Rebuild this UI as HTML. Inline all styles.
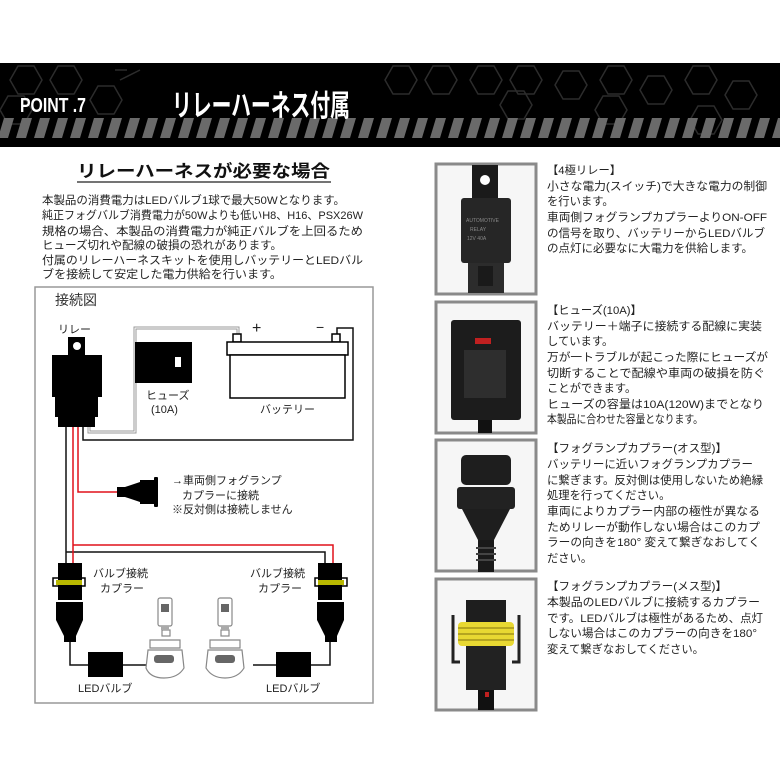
<!DOCTYPE html>
<html><head><meta charset="utf-8"><style>
html,body{margin:0;padding:0;background:#fff;}
svg{display:block;}
text{font-family:"Liberation Sans","Noto Sans CJK JP",sans-serif;}
</style></head><body>
<svg width="780" height="780" viewBox="0 0 780 780" xmlns="http://www.w3.org/2000/svg">
<defs><clipPath id="band"><rect x="0" y="63" width="780" height="84"/></clipPath></defs>
<!-- header -->
<rect x="0" y="63" width="780" height="84" fill="#000"/>
<g fill="none" stroke="#2c2c2c" stroke-width="1.5" clip-path="url(#band)">
<path d="M10 80 l8 -14 h16 l8 14 l-8 14 h-16z"/>
<path d="M50 80 l8 -14 h16 l8 14 l-8 14 h-16z"/>
<path d="M90 100 l8 -14 h16 l8 14 l-8 14 h-16z"/>
<path d="M0 110 l8 -14 h16 l8 14 l-8 14 h-16z"/>
<path d="M115 70 h12 M120 80 l20 -10"/>
<path d="M385 80 l8 -14 h16 l8 14 l-8 14 h-16z"/>
<path d="M425 80 l8 -14 h16 l8 14 l-8 14 h-16z"/>
<path d="M470 80 l8 -14 h16 l8 14 l-8 14 h-16z"/>
<path d="M510 80 l8 -14 h16 l8 14 l-8 14 h-16z"/>
<path d="M555 85 l8 -14 h16 l8 14 l-8 14 h-16z"/>
<path d="M600 80 l8 -14 h16 l8 14 l-8 14 h-16z"/>
<path d="M640 90 l8 -14 h16 l8 14 l-8 14 h-16z"/>
<path d="M685 80 l8 -14 h16 l8 14 l-8 14 h-16z"/>
<path d="M725 95 l8 -14 h16 l8 14 l-8 14 h-16z"/>
<path d="M500 105 l8 -14 h16 l8 14 l-8 14 h-16z"/>
<path d="M595 110 l8 -14 h16 l8 14 l-8 14 h-16z"/>
<path d="M690 120 l8 -14 h16 l8 14 l-8 14 h-16z"/>
</g>
<g fill="#6a6a6a">
<path d="M4 118 h10 l-6 20 h-10z"/>
<path d="M22 118 h10 l-6 20 h-10z"/>
<path d="M40 118 h10 l-6 20 h-10z"/>
<path d="M58 118 h10 l-6 20 h-10z"/>
<path d="M76 118 h10 l-6 20 h-10z"/>
<path d="M94 118 h10 l-6 20 h-10z"/>
<path d="M112 118 h10 l-6 20 h-10z"/>
<path d="M130 118 h10 l-6 20 h-10z"/>
<path d="M148 118 h10 l-6 20 h-10z"/>
<path d="M166 118 h10 l-6 20 h-10z"/>
<path d="M184 118 h10 l-6 20 h-10z"/>
<path d="M202 118 h10 l-6 20 h-10z"/>
<path d="M220 118 h10 l-6 20 h-10z"/>
<path d="M238 118 h10 l-6 20 h-10z"/>
<path d="M256 118 h10 l-6 20 h-10z"/>
<path d="M274 118 h10 l-6 20 h-10z"/>
<path d="M292 118 h10 l-6 20 h-10z"/>
<path d="M310 118 h10 l-6 20 h-10z"/>
<path d="M328 118 h10 l-6 20 h-10z"/>
<path d="M346 118 h10 l-6 20 h-10z"/>
<path d="M364 118 h10 l-6 20 h-10z"/>
<path d="M382 118 h10 l-6 20 h-10z"/>
<path d="M400 118 h10 l-6 20 h-10z"/>
<path d="M418 118 h10 l-6 20 h-10z"/>
<path d="M436 118 h10 l-6 20 h-10z"/>
<path d="M454 118 h10 l-6 20 h-10z"/>
<path d="M472 118 h10 l-6 20 h-10z"/>
<path d="M490 118 h10 l-6 20 h-10z"/>
<path d="M508 118 h10 l-6 20 h-10z"/>
<path d="M526 118 h10 l-6 20 h-10z"/>
<path d="M544 118 h10 l-6 20 h-10z"/>
<path d="M562 118 h10 l-6 20 h-10z"/>
<path d="M580 118 h10 l-6 20 h-10z"/>
<path d="M598 118 h10 l-6 20 h-10z"/>
<path d="M616 118 h10 l-6 20 h-10z"/>
<path d="M634 118 h10 l-6 20 h-10z"/>
<path d="M652 118 h10 l-6 20 h-10z"/>
<path d="M670 118 h10 l-6 20 h-10z"/>
<path d="M688 118 h10 l-6 20 h-10z"/>
<path d="M706 118 h10 l-6 20 h-10z"/>
<path d="M724 118 h10 l-6 20 h-10z"/>
<path d="M742 118 h10 l-6 20 h-10z"/>
<path d="M760 118 h10 l-6 20 h-10z"/>
<path d="M778 118 h10 l-6 20 h-10z"/>
</g>
<text x="20" y="112" fill="#fff" font-size="20" font-weight="bold" textLength="66" lengthAdjust="spacingAndGlyphs">POINT .7</text>
<text x="172" y="116" fill="#fff" font-size="30" font-weight="bold" textLength="178" lengthAdjust="spacingAndGlyphs">リレーハーネス付属</text>

<!-- left text -->
<text x="77" y="177" font-size="17" font-weight="bold" fill="#111" textLength="253" lengthAdjust="spacingAndGlyphs">リレーハーネスが必要な場合</text>
<line x1="77" y1="182" x2="331" y2="182" stroke="#222" stroke-width="1.2"/>
<g font-size="11.3" fill="#222">
<text x="42" y="204" textLength="303" lengthAdjust="spacingAndGlyphs">本製品の消費電力はLEDバルブ1球で最大50Wとなります。</text>
<text x="42" y="219" textLength="321" lengthAdjust="spacingAndGlyphs">純正フォグバルブ消費電力が50Wよりも低いH8、H16、PSX26W</text>
<text x="42" y="235" textLength="321" lengthAdjust="spacingAndGlyphs">規格の場合、本製品の消費電力が純正バルブを上回るため</text>
<text x="42" y="249" textLength="240" lengthAdjust="spacingAndGlyphs">ヒューズ切れや配線の破損の恐れがあります。</text>
<text x="42" y="264" textLength="321" lengthAdjust="spacingAndGlyphs">付属のリレーハーネスキットを使用しバッテリーとLEDバル</text>
<text x="42" y="278" textLength="240" lengthAdjust="spacingAndGlyphs">ブを接続して安定した電力供給を行います。</text>
</g>

<!-- diagram frame -->
<rect x="35" y="287" width="338" height="416" fill="none" stroke="#999" stroke-width="1.5"/>
<text x="55" y="305" font-size="14" fill="#333">接続図</text>
<text x="58" y="333" font-size="11" fill="#222">リレー</text>

<!-- wires -->
<path d="M89 427 V432 H135 V328 H238 V334" fill="none" stroke="#999" stroke-width="3"/>
<path d="M89 427 V432 H135 V328 H238 V334" fill="none" stroke="#fff" stroke-width="1"/>
<path d="M83 427 V440 H353 V328 H337 V334" fill="none" stroke="#111" stroke-width="1.5"/>
<path d="M66 427 V552 H325 V566 M66 552 V566" fill="none" stroke="#111" stroke-width="1.5"/>
<path d="M73 427 V545 H333 V566 M73 545 V566" fill="none" stroke="#e0101a" stroke-width="1.5"/>
<path d="M78 427 V492 H120" fill="none" stroke="#e0101a" stroke-width="1.5"/>

<!-- relay -->
<rect x="68" y="337" width="17" height="19" fill="#000"/>
<circle cx="77" cy="346" r="4" fill="#fff"/>
<rect x="52" y="355" width="50" height="42" fill="#000"/>
<rect x="55" y="397" width="43" height="20" fill="#000"/>
<rect x="58" y="416" width="37" height="11" fill="#000"/>

<!-- fuse -->
<rect x="135" y="342" width="57" height="41" fill="#000"/>
<rect x="175" y="357" width="6" height="10" fill="#fff"/>
<text x="146" y="399" font-size="11" fill="#222">ヒューズ</text>
<text x="151" y="413" font-size="11" fill="#222">(10A)</text>

<!-- battery -->
<rect x="233" y="334" width="8" height="8" fill="#fff" stroke="#000" stroke-width="1.5"/>
<rect x="332" y="334" width="8" height="8" fill="#fff" stroke="#000" stroke-width="1.5"/>
<rect x="227" y="342" width="121" height="13" fill="#fff" stroke="#000" stroke-width="1.5"/>
<rect x="230" y="355" width="115" height="43" fill="#fff" stroke="#000" stroke-width="1.5"/>
<text x="252" y="333" font-size="16" fill="#222">+</text>
<text x="316" y="332" font-size="14" fill="#222">−</text>
<text x="260" y="413" font-size="11" fill="#222">バッテリー</text>

<!-- vehicle plug -->
<rect x="117" y="487" width="8" height="10" fill="#000"/>
<path d="M125 487 L140 482 V502 L125 497z" fill="#000"/>
<rect x="140" y="480" width="14" height="24" fill="#000"/>
<rect x="154" y="477" width="4" height="30" rx="1" fill="#000"/>
<g font-size="11" fill="#222">
<text x="172" y="484">→車両側フォグランプ</text>
<text x="182" y="499">カプラーに接続</text>
<text x="172" y="513">※反対側は接続しません</text>
</g>

<!-- left coupler -->
<rect x="58" y="563" width="24" height="37" fill="#000"/>
<rect x="53" y="578" width="32" height="8" fill="none" stroke="#000" stroke-width="1.5"/>
<rect x="56" y="580" width="26" height="5" fill="#b8b800"/>
<path d="M56 602 H83 V620 L76 636 V642 H64 V636 L56 620z" fill="#000"/>
<path d="M70 642 V665 H88" fill="none" stroke="#111" stroke-width="1.5"/>
<rect x="88" y="652" width="35" height="25" fill="#000"/>
<path d="M123 665 H147" fill="none" stroke="#111" stroke-width="1.5"/>
<!-- right coupler -->
<rect x="318" y="563" width="24" height="37" fill="#000"/>
<rect x="315" y="578" width="32" height="8" fill="none" stroke="#000" stroke-width="1.5"/>
<rect x="318" y="580" width="26" height="5" fill="#b8b800"/>
<path d="M317 602 H344 V620 L337 636 V642 H325 V636 L317 620z" fill="#000"/>
<path d="M330 642 V665 H311" fill="none" stroke="#111" stroke-width="1.5"/>
<rect x="276" y="652" width="35" height="25" fill="#000"/>
<path d="M276 665 H253" fill="none" stroke="#111" stroke-width="1.5"/>

<g font-size="11" fill="#222">
<text x="93" y="577">バルブ接続</text>
<text x="100" y="592">カプラー</text>
<text x="250" y="577">バルブ接続</text>
<text x="258" y="592">カプラー</text>
<text x="78" y="692">LEDバルブ</text>
<text x="266" y="692">LEDバルブ</text>
</g>

<!-- bulbs -->
<g fill="#fff" stroke="#888" stroke-width="1.2">
<rect x="158" y="598" width="14" height="28" rx="2"/>
<rect x="162" y="630" width="8" height="6"/>
<path d="M150 640 H180 V648 H150z"/>
<path d="M148 650 H182 L184 668 Q178 678 164 678 Q150 678 146 668z"/>
<rect x="218" y="598" width="14" height="28" rx="2"/>
<rect x="221" y="630" width="8" height="6"/>
<path d="M210 640 H240 V648 H210z"/>
<path d="M208 650 H242 L244 668 Q238 678 225 678 Q212 678 206 668z"/>
</g>
<g fill="#666">
<rect x="161" y="604" width="8" height="8"/>
<rect x="221" y="604" width="8" height="8"/>
<rect x="154" y="655" width="20" height="8" rx="3"/>
<rect x="215" y="655" width="20" height="8" rx="3"/>
<rect x="161" y="626" width="8" height="4" fill="#aaa"/>
<rect x="221" y="626" width="8" height="4" fill="#aaa"/>
</g>

<!-- right photos -->
<g fill="#f6f6f6" stroke="#8a8a8a" stroke-width="3">
<rect x="436" y="164" width="100" height="130"/>
<rect x="436" y="302" width="100" height="131"/>
<rect x="436" y="440" width="100" height="131"/>
<rect x="436" y="579" width="100" height="131"/>
</g>
<!-- relay photo -->
<rect x="472" y="165" width="26" height="35" fill="#1a1a1a"/>
<circle cx="485" cy="180" r="5" fill="#fff"/>
<rect x="461" y="198" width="50" height="65" rx="3" fill="#262626"/>
<g font-size="5" fill="#888"><text x="466" y="222">AUTOMOTIVE</text><text x="470" y="231">RELAY</text><text x="467" y="240">12V  40A</text></g>
<rect x="468" y="263" width="36" height="30" fill="#2c2c2c"/>
<rect x="478" y="266" width="15" height="20" fill="#1a1a1a"/>
<!-- fuse photo -->
<rect x="451" y="320" width="70" height="100" rx="3" fill="#1c1c1c"/>
<rect x="475" y="338" width="16" height="6" fill="#c02020"/>
<rect x="464" y="350" width="42" height="48" fill="#2e2e2e"/>
<rect x="478" y="420" width="14" height="13" fill="#111"/>
<!-- male coupler photo -->
<rect x="461" y="455" width="50" height="30" rx="5" fill="#1e1e1e"/>
<rect x="457" y="487" width="58" height="22" rx="3" fill="#222"/>
<path d="M462 509 H510 L494 540 H478z" fill="#1e1e1e"/>
<rect x="478" y="540" width="16" height="32" fill="#1a1a1a"/>
<g fill="#444"><rect x="476" y="547" width="20" height="2"/><rect x="476" y="553" width="20" height="2"/><rect x="476" y="559" width="20" height="2"/></g>
<!-- female coupler photo -->
<rect x="466" y="600" width="40" height="25" fill="#1e1e1e"/>
<rect x="458" y="622" width="56" height="24" rx="4" fill="#e8d832"/>
<g fill="#b5a520"><rect x="458" y="627" width="56" height="2"/><rect x="458" y="633" width="56" height="2"/><rect x="458" y="639" width="56" height="2"/></g>
<path d="M453 615 V662 H460 M519 615 V662 H512" fill="none" stroke="#222" stroke-width="3"/>
<rect x="466" y="646" width="40" height="44" fill="#222"/>
<rect x="478" y="690" width="16" height="20" fill="#111"/>
<rect x="485" y="692" width="4" height="5" fill="#c02020"/>

<!-- right texts -->
<g font-size="11.3" fill="#222">
<text x="547" y="174">【4極リレー】</text>
<text x="547" y="190" textLength="220" lengthAdjust="spacingAndGlyphs">小さな電力(スイッチ)で大きな電力の制御</text>
<text x="547" y="205">を行います。</text>
<text x="547" y="221" textLength="220" lengthAdjust="spacingAndGlyphs">車両側フォグランプカプラーよりON-OFF</text>
<text x="547" y="237" textLength="218" lengthAdjust="spacingAndGlyphs">の信号を取り、バッテリーからLEDバルブ</text>
<text x="547" y="252" textLength="206" lengthAdjust="spacingAndGlyphs">の点灯に必要なに大電力を供給します。</text>

<text x="547" y="314">【ヒューズ(10A)】</text>
<text x="547" y="330" textLength="215" lengthAdjust="spacingAndGlyphs">バッテリー＋端子に接続する配線に実装</text>
<text x="547" y="345">しています。</text>
<text x="547" y="361" textLength="221" lengthAdjust="spacingAndGlyphs">万が一トラブルが起こった際にヒューズが</text>
<text x="547" y="377" textLength="218" lengthAdjust="spacingAndGlyphs">切断することで配線や車両の破損を防ぐ</text>
<text x="547" y="392">ことができます。</text>
<text x="547" y="408" textLength="217" lengthAdjust="spacingAndGlyphs">ヒューズの容量は10A(120W)までとなり</text>
<text x="547" y="423" textLength="156" lengthAdjust="spacingAndGlyphs">本製品に合わせた容量となります。</text>

<text x="547" y="452" textLength="180" lengthAdjust="spacingAndGlyphs">【フォグランプカプラー(オス型)】</text>
<text x="547" y="468" textLength="206" lengthAdjust="spacingAndGlyphs">バッテリーに近いフォグランプカプラー</text>
<text x="547" y="484" textLength="216" lengthAdjust="spacingAndGlyphs">に繋ぎます。反対側は使用しないため絶縁</text>
<text x="547" y="499">処理を行ってください。</text>
<text x="547" y="515" textLength="213" lengthAdjust="spacingAndGlyphs">車両によりカプラー内部の極性が異なる</text>
<text x="547" y="531" textLength="213" lengthAdjust="spacingAndGlyphs">ためリレーが動作しない場合はこのカプ</text>
<text x="547" y="546" textLength="213" lengthAdjust="spacingAndGlyphs">ラーの向きを180° 変えて繋ぎなおしてく</text>
<text x="547" y="562">ださい。</text>

<text x="547" y="590" textLength="180" lengthAdjust="spacingAndGlyphs">【フォグランプカプラー(メス型)】</text>
<text x="547" y="606" textLength="213" lengthAdjust="spacingAndGlyphs">本製品のLEDバルブに接続するカプラー</text>
<text x="547" y="622" textLength="216" lengthAdjust="spacingAndGlyphs">です。LEDバルブは極性があるため、点灯</text>
<text x="547" y="637" textLength="210" lengthAdjust="spacingAndGlyphs">しない場合はこのカプラーの向きを180°</text>
<text x="547" y="653">変えて繋ぎなおしてください。</text>
</g>
</svg>
</body></html>
